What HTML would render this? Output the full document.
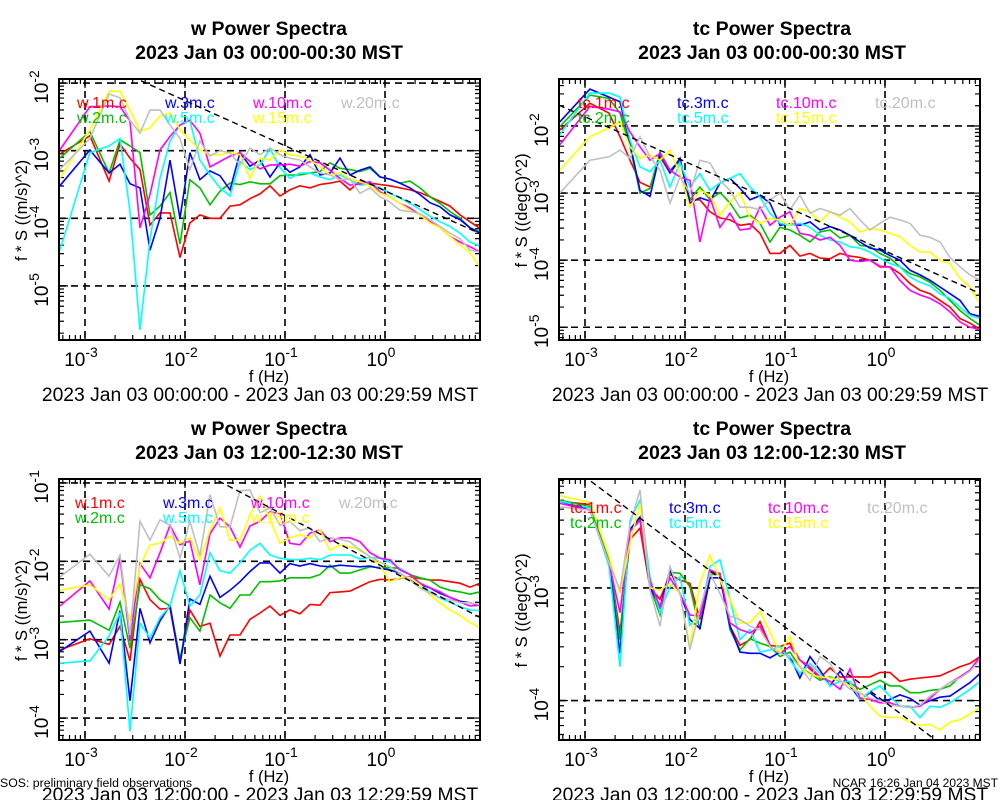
<!DOCTYPE html>
<html><head><meta charset="utf-8"><title>Power Spectra</title>
<style>
html,body{margin:0;padding:0;background:#fff;}
svg{display:block;font-family:"Liberation Sans",Arial,sans-serif;}
</style></head>
<body>
<svg id="chart" width="1000" height="800" viewBox="0 0 1000 800" xmlns="http://www.w3.org/2000/svg">
<rect x="0" y="0" width="1000" height="800" fill="#fff"/>
<text x="0" y="787" font-size="12.3">SOS: preliminary field observations</text>
<text x="998" y="787" font-size="12" text-anchor="end">NCAR 16:26 Jan 04 2023 MST</text>
</svg>
<script>
// frequency bins (Hz)
const freqs = [5.6e-4,1.12e-3,1.74e-3,2.24e-3,2.82e-3,3.55e-3,4.47e-3,5.62e-3,7.08e-3,8.91e-3,0.0112,0.0141,0.0178,0.0224,0.0282,0.0355,0.0447,0.0562,0.0708,0.0891,0.112,0.141,0.178,0.224,0.282,0.355,0.447,0.562,0.708,0.891,1.12,1.41,1.78,2.24,2.82,3.55,4.47,5.62,7.08,8.91];
const seriesNames = ["1m","2m","3m","5m","10m","15m","20m"];
const seriesColors = ["#ff0000","#00c000","#0000ff","#00ffff","#ff00ff","#ffff00","#c0c0c0"];
// log10(f*S) values, panel 1: w 00:00-00:30
const w1_1m  = [-3.05,-2.78,-3.45,-2.9,-3.11,-3.28,-4.1,-3.92,-3.92,-4.58,-4.07,-3.95,-4.0,-4.0,-3.82,-3.8,-3.71,-3.64,-3.52,-3.67,-3.58,-3.52,-3.55,-3.5,-3.48,-3.45,-3.58,-3.45,-3.48,-3.5,-3.52,-3.55,-3.58,-3.62,-3.68,-3.75,-3.82,-3.95,-4.05,-4.15];
const w1_2m  = [-3.11,-2.72,-3.33,-2.84,-2.93,-3.03,-3.95,-3.82,-3.62,-4.38,-3.43,-3.55,-3.8,-3.6,-3.48,-3.5,-3.46,-3.49,-3.49,-3.37,-3.36,-3.36,-3.33,-3.31,-3.18,-3.26,-3.28,-3.31,-3.26,-3.39,-3.42,-3.48,-3.45,-3.55,-3.68,-3.78,-3.9,-4.0,-4.14,-4.2];
const w1_3m  = [-3.52,-2.99,-3.33,-3.2,-3.49,-3.55,-4.47,-4.0,-3.14,-4.0,-3.03,-3.43,-3.3,-3.37,-3.58,-3.03,-3.23,-3.14,-3.39,-3.18,-3.32,-3.24,-3.06,-3.36,-3.33,-3.11,-3.36,-3.29,-3.24,-3.39,-3.42,-3.48,-3.55,-3.65,-3.77,-3.83,-3.95,-4.02,-4.14,-4.22];
const w1_5m  = [-4.48,-3.03,-2.93,-2.82,-3.89,-5.65,-4.32,-3.41,-2.86,-2.62,-2.55,-3.14,-3.36,-3.55,-3.67,-3.16,-3.28,-3.21,-2.97,-3.25,-3.41,-3.33,-3.33,-3.39,-3.43,-3.36,-3.43,-3.51,-3.49,-3.55,-3.63,-3.7,-3.78,-3.87,-3.97,-4.05,-4.12,-4.22,-4.35,-4.41];
const w1_10m = [-2.99,-2.35,-2.34,-2.35,-2.56,-4.14,-3.65,-2.99,-2.79,-2.62,-2.55,-2.74,-3.24,-3.16,-3.08,-3.03,-3.16,-3.27,-3.21,-3.21,-3.2,-3.23,-3.16,-3.18,-3.29,-3.41,-3.51,-3.49,-3.46,-3.61,-3.68,-3.78,-3.85,-3.95,-4.05,-4.14,-4.27,-4.35,-4.42,-4.5];
const w1_15m = [-3.41,-2.69,-2.12,-2.12,-2.4,-2.71,-2.66,-2.49,-2.44,-2.69,-2.84,-2.99,-3.06,-3.06,-3.03,-3.06,-3.41,-3.11,-3.14,-2.99,-3.06,-3.08,-3.14,-3.24,-3.36,-3.33,-3.42,-3.46,-3.52,-3.63,-3.68,-3.78,-3.88,-3.95,-4.07,-4.14,-4.27,-4.39,-4.51,-4.72];
const w1_20m = [-3.28,-2.82,-2.16,-2.22,-2.55,-2.74,-2.4,-2.4,-2.62,-2.82,-3.28,-2.86,-3.08,-3.0,-3.03,-3.21,-2.96,-3.06,-2.96,-3.06,-3.11,-3.14,-3.24,-3.33,-3.36,-3.43,-3.42,-3.63,-3.55,-3.68,-3.76,-3.88,-3.9,-3.93,-4.02,-4.12,-4.22,-4.3,-4.47,-4.5];
// panel 2: tc 00:00-00:30
const t1_1m  = [-2.06,-1.66,-1.81,-2.16,-2.51,-2.84,-2.91,-2.46,-2.7,-2.51,-3.1,-3.1,-3.28,-3.37,-3.4,-3.48,-3.46,-3.6,-3.9,-3.9,-3.78,-3.94,-3.9,-3.97,-3.98,-3.9,-3.94,-3.96,-4.0,-4.1,-4.1,-4.2,-4.35,-4.45,-4.5,-4.6,-4.7,-4.87,-4.94,-5.03];
const t1_2m  = [-2.01,-1.54,-1.59,-1.81,-2.31,-3.0,-2.93,-2.39,-2.66,-2.51,-3.1,-2.91,-3.1,-2.99,-3.15,-3.37,-3.33,-3.45,-3.73,-3.51,-3.55,-3.63,-3.73,-3.58,-3.55,-3.67,-3.63,-3.78,-3.8,-3.9,-3.97,-4.1,-4.2,-4.25,-4.33,-4.45,-4.6,-4.75,-4.87,-4.97];
const t1_3m  = [-1.94,-1.45,-1.57,-1.64,-2.26,-2.96,-3.05,-2.41,-2.7,-2.48,-3.15,-3.07,-3.12,-2.85,-2.78,-2.93,-3.1,-3.04,-3.15,-3.48,-3.46,-3.48,-3.43,-3.55,-3.5,-3.55,-3.63,-3.73,-3.82,-3.85,-3.93,-4.0,-4.15,-4.22,-4.3,-4.4,-4.5,-4.6,-4.8,-4.84];
const t1_5m  = [-2.13,-1.51,-1.51,-1.57,-2.21,-2.61,-2.68,-2.51,-2.91,-2.55,-2.91,-2.71,-2.96,-2.85,-2.78,-2.71,-2.91,-3.06,-3.3,-3.45,-3.48,-3.45,-3.51,-3.63,-3.7,-3.73,-3.8,-3.82,-3.88,-3.97,-4.05,-4.1,-4.25,-4.33,-4.38,-4.5,-4.57,-4.7,-4.82,-4.87];
const t1_10m = [-2.28,-1.71,-1.75,-1.79,-2.09,-2.31,-2.51,-2.41,-2.66,-2.76,-2.81,-3.73,-3.07,-3.51,-3.3,-3.55,-3.53,-3.21,-3.48,-3.36,-3.28,-3.6,-3.63,-3.7,-3.66,-3.78,-4.0,-4.02,-4.0,-4.09,-4.1,-4.3,-4.45,-4.52,-4.57,-4.65,-4.77,-4.92,-5.0,-5.03];
const t1_15m = [-2.66,-2.16,-2.03,-1.94,-2.31,-2.48,-2.43,-2.51,-2.36,-2.71,-3.21,-2.96,-3.03,-3.33,-3.13,-2.99,-3.36,-3.45,-3.38,-3.4,-3.48,-3.23,-3.28,-3.43,-3.28,-3.36,-3.43,-3.58,-3.53,-3.55,-3.6,-3.65,-3.78,-3.88,-3.88,-4.0,-4.05,-4.27,-4.4,-4.65];
const t1_20m = [-3.0,-2.51,-2.46,-2.36,-2.48,-2.16,-2.46,-2.66,-3.15,-2.76,-3.0,-2.51,-2.55,-2.81,-2.96,-3.21,-3.21,-3.25,-3.1,-3.0,-3.25,-3.03,-3.3,-3.23,-3.28,-3.33,-3.23,-3.4,-3.55,-3.45,-3.36,-3.4,-3.45,-3.63,-3.66,-3.73,-3.96,-4.1,-4.22,-4.3];
// panel 3: w 12:00-12:30
const w2_1m  = [-3.13,-2.99,-3.06,-2.83,-3.27,-2.23,-2.49,-2.61,-2.6,-3.3,-2.62,-2.83,-2.79,-3.21,-2.94,-2.94,-2.74,-2.66,-2.57,-2.69,-2.62,-2.67,-2.55,-2.56,-2.4,-2.39,-2.38,-2.32,-2.26,-2.23,-2.24,-2.22,-2.2,-2.22,-2.24,-2.24,-2.26,-2.28,-2.33,-2.28];
const w2_2m  = [-2.78,-2.75,-2.88,-2.52,-3.11,-2.3,-2.35,-2.49,-2.57,-3.24,-2.72,-2.89,-2.43,-2.53,-2.6,-2.43,-2.43,-2.26,-2.26,-2.25,-2.21,-2.21,-2.21,-2.17,-2.05,-2.15,-2.15,-2.11,-2.07,-2.08,-2.08,-2.09,-2.17,-2.21,-2.24,-2.33,-2.37,-2.39,-2.42,-2.39];
const w2_3m  = [-3.15,-2.89,-3.3,-2.63,-3.78,-2.6,-3.04,-2.76,-2.56,-3.31,-2.48,-2.55,-2.19,-2.46,-2.37,-2.26,-2.13,-2.02,-2.02,-2.15,-2.03,-2.06,-2.03,-2.06,-2.07,-2.05,-2.06,-2.07,-2.06,-2.09,-2.11,-2.15,-2.24,-2.3,-2.34,-2.41,-2.46,-2.51,-2.53,-2.56];
const w2_5m  = [-3.3,-3.27,-2.95,-2.66,-4.17,-2.79,-2.98,-2.72,-2.57,-2.12,-2.57,-2.43,-1.89,-2.12,-2.15,-2.02,-1.86,-1.77,-1.92,-1.96,-1.98,-1.98,-1.96,-1.98,-1.92,-1.92,-1.92,-1.97,-1.95,-1.96,-2.01,-2.09,-2.17,-2.3,-2.39,-2.47,-2.52,-2.58,-2.62,-2.63];
const w2_10m = [-2.57,-2.25,-2.61,-1.96,-3.02,-2.03,-2.21,-1.89,-1.54,-1.79,-1.74,-2.3,-1.65,-1.45,-1.56,-1.82,-1.55,-1.49,-1.37,-1.39,-1.77,-1.79,-1.64,-1.6,-1.75,-1.7,-1.7,-1.75,-1.89,-1.96,-1.98,-2.11,-2.17,-2.28,-2.34,-2.39,-2.46,-2.52,-2.57,-2.56];
const w2_15m = [-2.37,-2.3,-2.49,-2.29,-2.76,-2.06,-1.79,-1.77,-1.68,-1.77,-1.7,-1.98,-1.61,-1.32,-1.73,-1.73,-1.41,-1.17,-1.47,-1.77,-1.7,-1.66,-1.7,-1.6,-1.86,-1.79,-1.82,-1.84,-1.94,-2.05,-2.26,-2.21,-2.21,-2.3,-2.43,-2.53,-2.62,-2.69,-2.78,-2.85];
const w2_20m = [-2.2,-1.91,-2.19,-1.92,-2.94,-1.49,-1.73,-1.47,-1.54,-1.96,-1.49,-1.93,-1.15,-1.56,-1.56,-1.1,-1.09,-1.38,-1.32,-1.54,-1.49,-1.61,-1.57,-1.75,-1.7,-1.72,-1.75,-1.86,-1.94,-2.01,-2.07,-2.15,-2.24,-2.34,-2.41,-2.46,-2.49,-2.53,-2.53,-2.55];
// panel 4: tc 12:00-12:30
const t2_1m  = [-2.23,-2.26,-2.75,-3.4,-2.57,-2.47,-3.0,-3.1,-2.88,-2.93,-2.96,-3.28,-2.86,-2.87,-3.34,-3.51,-3.46,-3.3,-3.51,-3.52,-3.49,-3.64,-3.72,-3.8,-3.71,-3.79,-3.79,-3.79,-3.79,-3.75,-3.75,-3.83,-3.81,-3.8,-3.79,-3.78,-3.74,-3.7,-3.67,-3.61];
const t2_2m  = [-2.22,-2.28,-2.75,-3.46,-2.48,-2.38,-2.99,-3.24,-2.86,-2.87,-2.99,-3.37,-2.88,-2.88,-3.37,-3.55,-3.45,-3.49,-3.52,-3.61,-3.57,-3.7,-3.76,-3.82,-3.79,-3.83,-3.84,-3.9,-3.86,-3.82,-3.87,-3.87,-3.93,-3.93,-3.91,-3.9,-3.87,-3.79,-3.73,-3.64];
const t2_3m  = [-2.23,-2.31,-2.78,-3.58,-2.48,-2.37,-2.99,-3.17,-2.84,-3.05,-3.28,-3.36,-2.91,-2.91,-3.34,-3.57,-3.58,-3.58,-3.62,-3.57,-3.61,-3.8,-3.61,-3.73,-3.87,-3.74,-3.87,-3.99,-3.93,-4.0,-3.99,-3.95,-3.98,-4.04,-4.0,-3.97,-3.96,-3.9,-3.84,-3.76];
const t2_5m  = [-2.23,-2.29,-2.81,-3.7,-2.4,-2.22,-2.9,-3.22,-2.99,-2.9,-3.33,-3.25,-2.81,-2.75,-3.1,-3.46,-3.37,-3.57,-3.55,-3.52,-3.64,-3.76,-3.67,-3.76,-3.87,-3.83,-3.83,-3.99,-3.92,-3.87,-3.96,-4.05,-4.05,-4.15,-4.05,-4.06,-4.02,-3.96,-3.9,-3.83];
const t2_10m = [-2.25,-2.31,-2.78,-3.22,-2.5,-2.4,-2.94,-3.17,-2.91,-3.05,-3.24,-3.25,-2.84,-2.88,-3.31,-3.37,-3.4,-3.34,-3.52,-3.58,-3.52,-3.64,-3.7,-3.79,-3.83,-3.9,-3.72,-3.98,-3.99,-4.02,-4.02,-4.05,-4.06,-4.05,-3.98,-3.9,-3.84,-3.79,-3.73,-3.61];
const t2_15m = [-2.18,-2.24,-2.72,-3.05,-2.6,-2.25,-3.0,-3.02,-2.96,-3.05,-3.52,-2.96,-2.71,-2.93,-3.1,-3.31,-3.31,-3.21,-3.39,-3.58,-3.43,-3.7,-3.77,-3.79,-3.8,-3.82,-3.87,-3.93,-4.05,-4.14,-4.15,-4.15,-4.19,-4.22,-4.21,-4.26,-4.19,-4.17,-4.12,-4.06];
const t2_20m = [-2.28,-2.31,-2.78,-3.02,-2.44,-2.13,-3.02,-3.34,-2.81,-3.05,-3.55,-3.19,-2.87,-3.05,-3.25,-3.28,-3.34,-3.37,-3.52,-3.58,-3.61,-3.7,-3.82,-3.61,-3.67,-3.82,-3.9,-3.93,-3.98,-4.0,-4.04,-4.05,-4.06,-4.04,-3.96,-3.9,-3.84,-3.8,-3.74,-3.64];
// x tick labels (exponents) and reference-line anchors [log10 f, log10 y]
const xTickExps = [-3,-2,-1,0];
const refAnchor = [[-0.95,-2.96],[-3.26,-1.69],[-1.67,-0.97],[-2.96,-2.04]];
const refSlope = -2/3;

const panels = [
 {key:"w-top", var:"w", title:"w Power Spectra", sub:"2023 Jan 03 00:00-00:30 MST", range:"2023 Jan 03 00:00:00 - 2023 Jan 03 00:29:59 MST", ytitle:"f * S ((m/s)^2)",
  x0:59,x1:480,y0:79,y1:340,ymin:-5.8,ymax:-1.94,data:[w1_1m,w1_2m,w1_3m,w1_5m,w1_10m,w1_15m,w1_20m],legX:[77,165,253,341],legY:[108,123]},
 {key:"tc-top", var:"tc", title:"tc Power Spectra", sub:"2023 Jan 03 00:00-00:30 MST", range:"2023 Jan 03 00:00:00 - 2023 Jan 03 00:29:59 MST", ytitle:"f * S ((degC)^2)",
  x0:559,x1:980,y0:79,y1:340,ymin:-5.19,ymax:-1.30,data:[t1_1m,t1_2m,t1_3m,t1_5m,t1_10m,t1_15m,t1_20m],legX:[578,677,776,875],legY:[108,123]},
 {key:"w-bottom", var:"w", title:"w Power Spectra", sub:"2023 Jan 03 12:00-12:30 MST", range:"2023 Jan 03 12:00:00 - 2023 Jan 03 12:29:59 MST", ytitle:"f * S ((m/s)^2)",
  x0:59,x1:480,y0:479,y1:740,ymin:-4.28,ymax:-0.95,data:[w2_1m,w2_2m,w2_3m,w2_5m,w2_10m,w2_15m,w2_20m],legX:[75,163,251,339],legY:[508,523]},
 {key:"tc-bottom", var:"tc", title:"tc Power Spectra", sub:"2023 Jan 03 12:00-12:30 MST", range:"2023 Jan 03 12:00:00 - 2023 Jan 03 12:29:59 MST", ytitle:"f * S ((degC)^2)",
  x0:559,x1:980,y0:479,y1:740,ymin:-4.35,ymax:-2.033,data:[t2_1m,t2_2m,t2_3m,t2_5m,t2_10m,t2_15m,t2_20m],legX:[570,669,768,867],legY:[513,528]}
];
const XMIN=-3.26, XMAX=0.95;
const NS="http://www.w3.org/2000/svg";
const svg=document.getElementById("chart");
function mk(tag,attrs,parent){const e=document.createElementNS(NS,tag);for(const k in attrs)e.setAttribute(k,attrs[k]);(parent||svg).appendChild(e);return e;}

panels.forEach((p,pi)=>{
  const g=mk("g",{});
  
  
  const xs=lf=>p.x0+(lf-XMIN)/(XMAX-XMIN)*(p.x1-p.x0);
  const ys=lv=>p.y1-(lv-p.ymin)/(p.ymax-p.ymin)*(p.y1-p.y0);
  const yOff=p.y0-79;
  const tcx=(pi%2)?772:269;
  // titles
  let t=mk("text",{x:tcx,y:35+yOff,"font-size":19.5,"font-weight":"bold","text-anchor":"middle"},g);
  t.textContent=p.title;
  
  
  t=mk("text",{x:tcx,y:59+yOff,"font-size":19.5,"font-weight":"bold","text-anchor":"middle"},g);
  t.textContent=p.sub;
  
  
  // clip
  const cid="clip"+pi;
  const cp=mk("clipPath",{id:cid},g);
  mk("rect",{x:p.x0,y:p.y0,width:p.x1-p.x0,height:p.y1-p.y0},cp);
  // grid
  for(let d=Math.ceil(XMIN);d<=Math.floor(XMAX);d++){
    const l=mk("line",{x1:xs(d),x2:xs(d),y1:p.y0,y2:p.y1,stroke:"#000","stroke-width":1.6,"stroke-dasharray":"7,5"},g);
    
    
  }
  for(let d=Math.ceil(p.ymin);d<=Math.floor(p.ymax);d++){
    const l=mk("line",{x1:p.x0,x2:p.x1,y1:ys(d),y2:ys(d),stroke:"#000","stroke-width":1.6,"stroke-dasharray":"7,5"},g);
    
    
  }
  // ticks
  let tk="";
  for(let d=Math.floor(XMIN);d<=Math.ceil(XMAX);d++){for(let m=1;m<10;m++){const lf=d+Math.log10(m);if(lf<XMIN||lf>XMAX)continue;const L=m==1?9:5;const x=xs(lf);tk+=`M${x},${p.y1}v${-L}M${x},${p.y0}v${L}`;}}
  for(let d=Math.floor(p.ymin);d<=Math.ceil(p.ymax);d++){for(let m=1;m<10;m++){const lv=d+Math.log10(m);if(lv<p.ymin||lv>p.ymax)continue;const L=m==1?9:5;const y=ys(lv);tk+=`M${p.x0},${y}h${L}M${p.x1},${y}h${-L}`;}}
  const tp=mk("path",{d:tk,stroke:"#000","stroke-width":1.2,fill:"none"},g);
  
  
  // series
  p.data.forEach((vals,si)=>{
    const pts=vals.map((v,i)=>xs(Math.log10(freqs[i])).toFixed(1)+","+ys(v).toFixed(1)).join(" ");
    const pl=mk("polyline",{points:pts,fill:"none",stroke:seriesColors[si],"stroke-width":1.6,"stroke-linejoin":"miter","clip-path":`url(#${cid})`},g);
    
    
  });
  // reference line
  const [ax,ay]=refAnchor[pi];
  const rl=mk("line",{x1:xs(XMIN),y1:ys(ay+refSlope*(XMIN-ax)),x2:xs(XMAX),y2:ys(ay+refSlope*(XMAX-ax)),stroke:"#000","stroke-width":1.4,"stroke-dasharray":"6,4","clip-path":`url(#${cid})`},g);
  
  
  // legend
  seriesNames.forEach((n,si)=>{
    const order=[[0,0],[0,1],[1,0],[1,1],[2,0],[2,1],[3,0]][si];
    const lt=mk("text",{x:p.legX[order[0]],y:p.legY[order[1]],"font-size":16,fill:seriesColors[si]},g);
    lt.textContent=p.var+"."+n+".c";
    
    
  });
  // frame
  const fr=mk("rect",{x:p.x0,y:p.y0,width:p.x1-p.x0,height:p.y1-p.y0,fill:"none",stroke:"#000","stroke-width":2},g);
  
  
  // x tick labels
  xTickExps.forEach(e=>{
    const x=xs(e);
    const tt=mk("text",{x:x-4,y:p.y1+26,"font-size":19,"text-anchor":"middle"},g);
    tt.textContent="10";
    const sp=mk("tspan",{dy:-9,"font-size":14},tt);sp.textContent=String(e);
    
    
  });
  // y tick labels
  for(let d=Math.ceil(p.ymin);d<=Math.floor(p.ymax);d++){
    const y=ys(d);
    const tt=mk("text",{transform:`translate(${p.x0-11},${y+4}) rotate(-90)`,"font-size":19,"text-anchor":"middle"},g);
    tt.textContent="10";
    const sp=mk("tspan",{dy:-9,"font-size":14},tt);sp.textContent=String(d);
    
    
  }
  // axis titles
  let xt=mk("text",{x:(pi%2)?769:269,y:p.y1+42,"font-size":16.5,"text-anchor":"middle"},g);
  xt.textContent="f (Hz)";
  
  
  let yt=mk("text",{transform:`translate(${p.x0-32},${(p.y0+p.y1)/2+1}) rotate(-90)`,"font-size":16.5,"text-anchor":"middle"},g);
  yt.textContent=p.ytitle;
  
  
  let rt=mk("text",{x:(pi%2)?770:260,y:p.y1+61,"font-size":19.3,"text-anchor":"middle"},g);
  rt.textContent=p.range;
  
  
});
</script>
</body></html>
